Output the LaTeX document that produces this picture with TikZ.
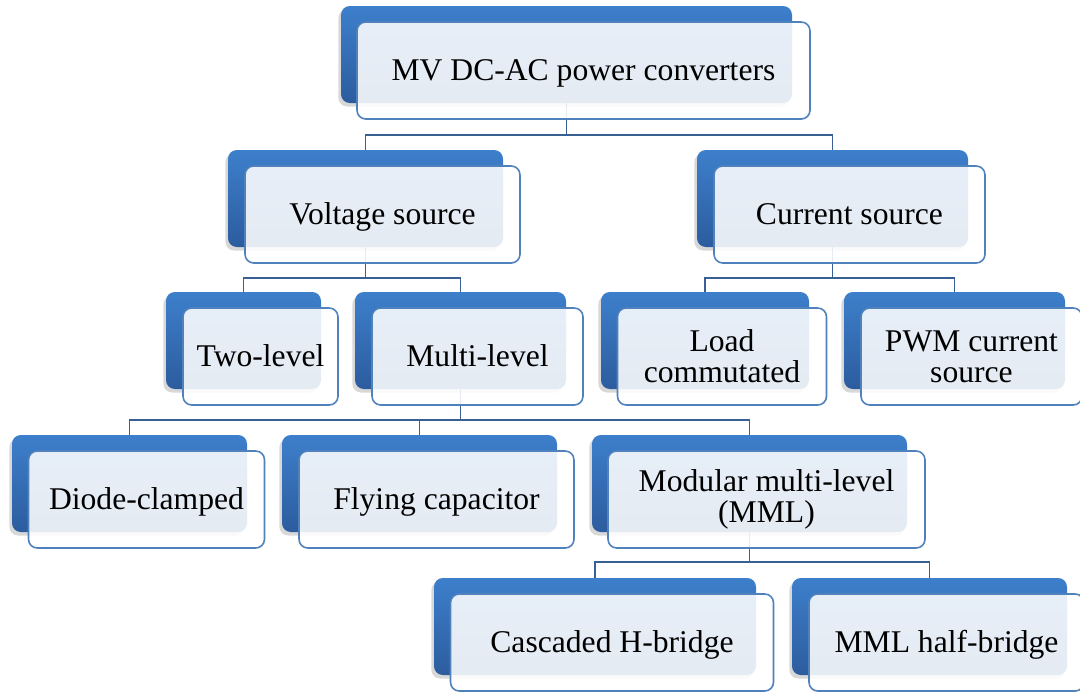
\documentclass[tikz,border=0pt]{standalone}
\usepackage{fontspec}
\setmainfont{Liberation Serif}
\usetikzlibrary{shadows,calc}
\definecolor{bluetop}{RGB}{61,127,203}
\definecolor{bluebot}{RGB}{44,92,158}
\definecolor{frontedge}{RGB}{79,129,189}
\definecolor{linkcol}{RGB}{56,96,146}
\tikzset{
  bluebox/.style={rectangle, rounded corners=5pt, top color=bluetop, bottom color=bluebot,
    draw=none, drop shadow={shadow xshift=-1.5pt, shadow yshift=-2pt, opacity=0.3},
    minimum height=97*0.02cm, inner sep=0pt},
  frontbox/.style={rectangle, rounded corners=5pt, draw=frontedge, line width=0.9pt,
    fill=white, fill opacity=0.88, text opacity=1, minimum height=97*0.02cm,
    inner sep=0pt, align=center, font=\fontsize{18}{17.6}\selectfont},
  oneline/.style={text height=16.4pt, text depth=4.5pt},
  link/.style={draw=linkcol, line width=1.1pt},
}
\begin{document}
\begin{tikzpicture}[x=0.02cm, y=-0.02cm]
\clip (0,0) rectangle (1080,691);
\fill[white] (0,0) rectangle (1080,691);
% back (blue) boxes
\node[bluebox, minimum width=451*0.02cm] (top-b) at (566.5,54.5) {};
\node[bluebox, minimum width=275*0.02cm] (volt-b) at (365.5,198.5) {};
\node[bluebox, minimum width=271*0.02cm] (curr-b) at (832.5,198.5) {};
\node[bluebox, minimum width=155*0.02cm] (two-b) at (243.5,340.5) {};
\node[bluebox, minimum width=211*0.02cm] (multi-b) at (460.5,340.5) {};
\node[bluebox, minimum width=208*0.02cm] (load-b) at (705,340.5) {};
\node[bluebox, minimum width=221*0.02cm] (pwm-b) at (954.5,340.5) {};
\node[bluebox, minimum width=235*0.02cm] (diode-b) at (129.5,483.5) {};
\node[bluebox, minimum width=275*0.02cm] (fly-b) at (419.5,483.5) {};
\node[bluebox, minimum width=315*0.02cm] (mml-b) at (749.5,483.5) {};
\node[bluebox, minimum width=322*0.02cm] (casc-b) at (595,626.5) {};
\node[bluebox, minimum width=275*0.02cm] (hb-b) at (929.5,626.5) {};
% junction levels
\coordinate (j1) at ($(top-b.south)+(0,32)$);
\coordinate (j2) at ($(volt-b.south)+(0,31)$);
\coordinate (j3) at ($(multi-b.south)+(0,31)$);
\coordinate (j4) at ($(mml-b.south)+(0,30)$);
% connectors
\draw[link] (top-b.south) -- (top-b.south |- j1) -| (volt-b.north);
\draw[link] (top-b.south |- j1) -| (curr-b.north);
\draw[link] (volt-b.south) -- (volt-b.south |- j2) -| (two-b.north);
\draw[link] (volt-b.south |- j2) -| (multi-b.north);
\draw[link] (curr-b.south) -- (curr-b.south |- j2) -| (load-b.north);
\draw[link] (curr-b.south |- j2) -| (pwm-b.north);
\draw[link] (multi-b.south) -- (multi-b.south |- j3) -| (diode-b.north);
\draw[link] (multi-b.south |- j3) -| (fly-b.north);
\draw[link] (multi-b.south |- j3) -| (mml-b.north);
\draw[link] (mml-b.south) -- (mml-b.south |- j4) -| (casc-b.north);
\draw[link] (mml-b.south |- j4) -| (hb-b.north);
% front boxes
\node[frontbox, oneline, minimum width=453*0.02cm] (top) at ([shift={(17,16)}]top-b.center) {MV DC-AC power converters};
\node[frontbox, oneline, minimum width=275*0.02cm] (volt) at ([shift={(17,16)}]volt-b.center) {Voltage source};
\node[frontbox, oneline, minimum width=271*0.02cm] (curr) at ([shift={(17,16)}]curr-b.center) {Current source};
\node[frontbox, oneline, minimum width=155*0.02cm] (two) at ([shift={(17,16)}]two-b.center) {Two-level};
\node[frontbox, oneline, minimum width=211*0.02cm] (multi) at ([shift={(17,16)}]multi-b.center) {Multi-level};
\node[frontbox, minimum width=209*0.02cm] (load) at ([shift={(17,16)}]load-b.center) {Load\\commutated};
\node[frontbox, minimum width=221*0.02cm] (pwm) at ([shift={(17,16)}]pwm-b.center) {PWM current\\source};
\node[frontbox, oneline, minimum width=236*0.02cm] (diode) at ([shift={(17,16)}]diode-b.center) {Diode-clamped};
\node[frontbox, oneline, minimum width=275*0.02cm] (fly) at ([shift={(17,16)}]fly-b.center) {Flying capacitor};
\node[frontbox, minimum width=317*0.02cm] (mml) at ([shift={(17,16)}]mml-b.center) {Modular multi-level\\(MML)};
\node[frontbox, oneline, minimum width=323*0.02cm] (casc) at ([shift={(17,16)}]casc-b.center) {Cascaded H-bridge};
\node[frontbox, oneline, minimum width=275*0.02cm] (hb) at ([shift={(17,16)}]hb-b.center) {MML half-bridge};
\end{tikzpicture}
\end{document}
